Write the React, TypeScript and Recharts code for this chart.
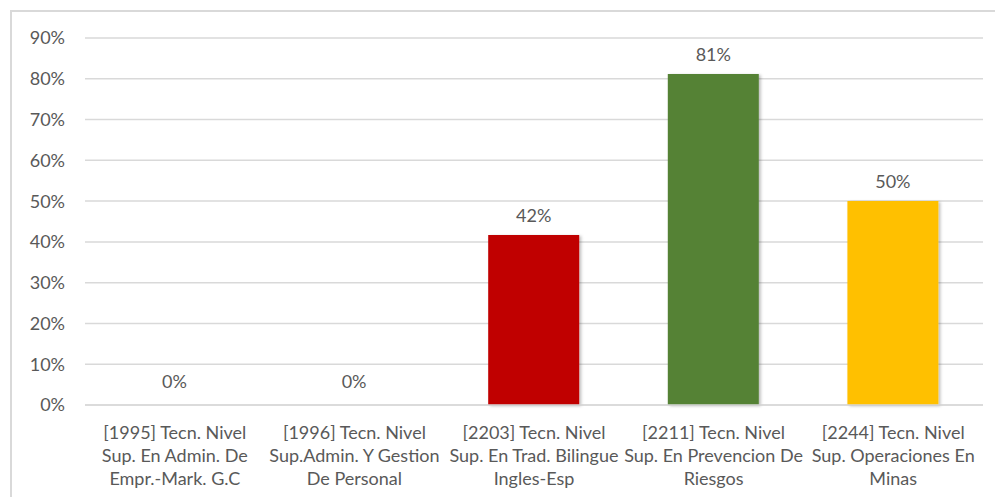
import React from "react";
import { BarChart, Bar, XAxis, YAxis, CartesianGrid, Cell } from "recharts";

const categories = [
  "[1995] Tecn. Nivel|Sup. En Admin. De|Empr.-Mark. G.C",
  "[1996] Tecn. Nivel|Sup.Admin. Y Gestion|De Personal",
  "[2203] Tecn. Nivel|Sup. En Trad. Bilingue|Ingles-Esp",
  "[2211] Tecn. Nivel|Sup. En Prevencion De|Riesgos",
  "[2244] Tecn. Nivel|Sup. Operaciones En|Minas",
];
const values = [0, 0, 0.417, 0.812, 0.5];
const barColors = ["#4472C4", "#ED7D31", "#C00000", "#548235", "#FFC000"];
const yTicks = [0, 0.1, 0.2, 0.3, 0.4, 0.5, 0.6, 0.7, 0.8, 0.9];

const data = categories.map((c, i) => ({ name: c, value: values[i] }));

const FONT = "Lato, 'Open Sans', sans-serif";
const TEXT = "#595959";

const pct = (v: number) => `${Math.round(v * 100)}%`;

function XTick(props: any) {
  const { x, y, payload } = props;
  const lines = String(payload.value).split("|");
  return (
    <text x={x} y={y} textAnchor="middle" fill={TEXT} fontSize={18} fontFamily={FONT}>
      {lines.map((l, i) => (
        <tspan key={i} x={x} dy={i === 0 ? 26 : 23}>
          {l}
        </tspan>
      ))}
    </text>
  );
}

function BarLabel(props: any) {
  const { x, y, width, height, value } = props;
  const top = Math.min(y, y + (height || 0));
  const off = value === 0 ? 16 : 13;
  return (
    <text
      x={x + width / 2}
      y={top - off}
      textAnchor="middle"
      fill={TEXT}
      fontSize={18}
      fontFamily={FONT}
    >
      {pct(value)}
    </text>
  );
}

export default function App() {
  return (
    <div style={{ position: "fixed", left: 0, top: 0, width: 995, height: 497, background: "#fff" }}>
      <div
        style={{
          position: "absolute",
          left: 10,
          top: 10,
          width: 985,
          height: 487,
          borderLeft: "2px solid #d9d9d9",
          borderTop: "2px solid #d9d9d9",
        }}
      />
      <BarChart
        width={995}
        height={497}
        data={data}
        margin={{ top: 38, right: 12, left: 10, bottom: 12 }}
        style={{ position: "absolute", left: 0, top: 0 }}
      >
        <defs>
          <filter id="shadow" x="-10%" y="-10%" width="130%" height="120%">
            <feDropShadow dx="2" dy="1" stdDeviation="1.5" floodColor="#000" floodOpacity="0.25" />
          </filter>
        </defs>
        <CartesianGrid vertical={false} stroke="#d9d9d9" strokeWidth={1.5} />
        <XAxis
          dataKey="name"
          axisLine={{ stroke: "#d9d9d9", strokeWidth: 1.5 }}
          tickLine={false}
          height={80}
          interval={0}
          tick={<XTick />}
        />
        <YAxis
          domain={[0, 0.9]}
          ticks={yTicks}
          axisLine={false}
          tickLine={false}
          tickSize={0}
          tickMargin={20}
          width={75}
          tickFormatter={pct}
          tick={{ fill: TEXT, fontSize: 18, fontFamily: FONT }}
        />
        <Bar
          dataKey="value"
          barSize={91}
          minPointSize={1}
          isAnimationActive={false}
          style={{ filter: "url(#shadow)" }}
          label={(p: any) => <BarLabel {...p} />}
        >
          {data.map((d, i) => (
            <Cell key={i} fill={d.value === 0 ? "transparent" : barColors[i]} />
          ))}
        </Bar>
      </BarChart>
    </div>
  );
}
